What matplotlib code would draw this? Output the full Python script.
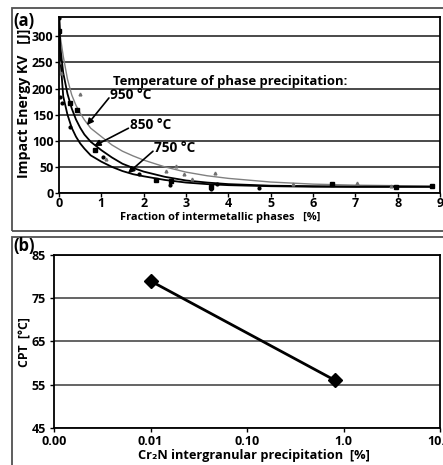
import matplotlib.pyplot as plt
from matplotlib.patches import Rectangle

plt.rcParams['font.family'] = ['Open Sans', 'DejaVu Sans']
plt.rcParams['font.weight'] = 'bold'
plt.rcParams['axes.labelweight'] = 'bold'

# panel (a): impact energy vs fraction of intermetallic phases
x_fit = [0.005, 0.03, 0.1, 0.2, 0.3, 0.4, 0.5, 0.6, 0.75, 1, 1.25, 1.5, 1.75, 2, 2.5, 3, 3.5,
         4, 5, 6, 7, 8, 8.8]
fit_750 = [335, 260, 185, 150, 125, 108, 95, 85, 72, 60, 50, 42, 36, 32, 25, 20, 17,
           15, 13, 12, 12, 12, 12]
fit_850 = [335, 280, 230, 190, 162, 141, 125, 112, 98, 82, 68, 56, 48, 41, 31, 24, 20,
           17, 14, 13, 12, 12, 12]
fit_950 = [335, 300, 262, 218, 188, 168, 153, 140, 124, 108, 92, 80, 71, 63, 50, 40, 33,
           28, 21, 17, 15, 14, 13]

x_750 = [0, 0.02, 0.07, 0.26, 1.04, 1.9, 2.62, 3.58, 3.73, 4.72]
y_750 = [335, 184, 172, 127, 69, 37, 16, 8, 17, 10]
x_850 = [0, 0.26, 0.42, 0.85, 2.3, 2.64, 3.6, 6.44, 7.95, 8.8]
y_850 = [310, 172, 158, 82, 25, 23, 12, 17, 11, 13]
x_950 = [0, 0.05, 0.5, 1.1, 2.52, 2.76, 2.95, 3.14, 3.68, 5.52, 7.03, 7.85]
y_950 = [250, 230, 190, 65, 42, 52, 36, 27, 38, 17, 19, 14]

# panel (b): CPT vs Cr2N precipitation
cr2n = [0.01, 0.82]
cpt = [79, 56]

fig = plt.figure(figsize=(4.43, 4.65), dpi=100)
W, H = 443, 465

def fx(px):
    return px / W

def fy(py):
    return 1 - py / H

# panel frames
fig.patches.append(Rectangle((fx(12), fy(231)), 1.1, fy(8) - fy(231), transform=fig.transFigure,
                             fill=False, ec='#505050', lw=1.3))
fig.patches.append(Rectangle((fx(12), -0.1), 1.1, fy(237) + 0.1, transform=fig.transFigure,
                             fill=False, ec='#505050', lw=1.3))

# ---- (a)
ax1 = fig.add_axes([fx(59), fy(193), fx(440) - fx(59), fy(17) - fy(193)])
ax1.set_xlim(0, 9)
ax1.set_ylim(0, 337)
ax1.set_yticks(range(0, 301, 50))
ax1.set_xticks(range(0, 10))
ax1.grid(axis='y', color='#3a3a3a', lw=1.3)
ax1.set_axisbelow(True)
for s in ax1.spines.values():
    s.set_color('k')
    s.set_linewidth(1.3)
ax1.tick_params(direction='out', length=3, width=1, labelsize=9, pad=1)
ax1.tick_params(axis='x', pad=0)

ax1.plot(x_fit, fit_950, color='#808080', lw=1.0)
ax1.plot(x_fit, fit_850, color='k', lw=1.3)
ax1.plot(x_fit, fit_750, color='k', lw=1.3)
ax1.plot(x_950, y_950, '^', color='#707070', ms=2, ls='none')
ax1.plot(x_850, y_850, 's', color='k', ms=2.5, ls='none')
ax1.plot(x_750, y_750, 'o', color='k', ms=2, ls='none')

ax1.text(1.27, 213, 'Temperature of phase precipitation:', fontsize=9.4, ha='left', va='center')
labels = [('950 °C', (1.2, 187), (0.66, 130), (1.18, 182)),
          ('850 °C', (1.68, 130), (0.83, 90), (1.64, 124)),
          ('750 °C', (2.25, 86), (1.63, 38), (2.22, 80))]
for txt, tpos, tip, start in labels:
    ax1.text(tpos[0], tpos[1], txt, fontsize=9.8, ha='left', va='center')
    ax1.annotate('', xy=tip, xytext=start,
                 arrowprops=dict(arrowstyle='-|>', color='k', lw=1.2, mutation_scale=9,
                                 shrinkA=0, shrinkB=0))

fig.text(fx(24), fy(103), 'Impact Energy KV   [J]', fontsize=10.2, rotation=90,
         ha='center', va='center')
fig.text(fx(220), fy(217), 'Fraction of intermetallic phases   [%]', fontsize=7.9,
         ha='center', va='center')
fig.text(fx(13), fy(21), '(a)', fontsize=12, ha='left', va='center')

# ---- (b)
ax2 = fig.add_axes([fx(54), fy(428), fx(440) - fx(54), fy(255) - fy(428)])
ax2.set_xscale('log')
ax2.set_xlim(0.001, 10)
ax2.set_ylim(45, 85)
ax2.set_xticks([0.001, 0.01, 0.1, 1, 10])
ax2.set_xticklabels(['0.00', '0.01', '0.10', '1.0', '10.0'])
ax2.minorticks_off()
ax2.set_yticks([45, 55, 65, 75, 85])
ax2.grid(axis='y', color='#3a3a3a', lw=1.1)
ax2.set_axisbelow(True)
for s in ax2.spines.values():
    s.set_color('k')
    s.set_linewidth(1.3)
ax2.tick_params(direction='out', length=3, width=1, labelsize=9, pad=3)
ax2.tick_params(axis='x', pad=2)

ax2.plot(cr2n, cpt, color='k', lw=2, marker='D', ms=7)
fig.text(fx(25), fy(342), 'CPT  [°C]', fontsize=8.8, rotation=90, ha='center', va='center')
fig.text(fx(254), fy(455), 'Cr₂N intergranular precipitation  [%]', fontsize=9.2,
         ha='center', va='center')
fig.text(fx(13), fy(246), '(b)', fontsize=12, ha='left', va='center')

fig.savefig('out.png', dpi=100)
